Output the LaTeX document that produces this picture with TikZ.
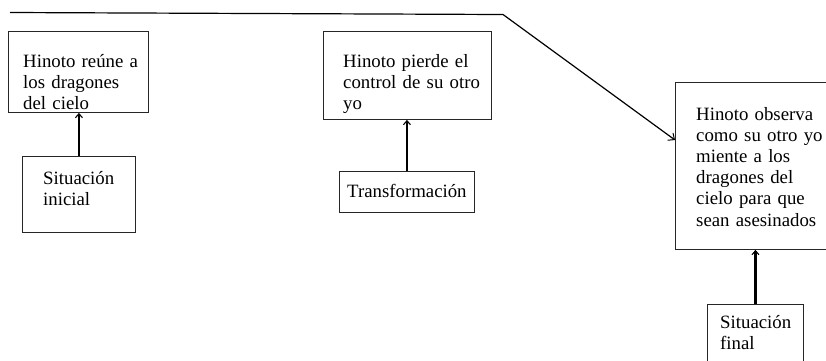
\documentclass[tikz,border=0pt]{standalone}
\usepackage{fontspec}
\setmainfont{Liberation Serif}
\usetikzlibrary{arrows.meta}
\begin{document}
\begin{tikzpicture}[x=1pt,y=-1pt,
  box/.style={draw=black!85,line width=0.9pt,inner sep=0pt,anchor=north west},
  txt/.style={inner sep=0pt,anchor=base west,align=left,text width=200pt,
    font=\fontsize{18.8}{21.2}\selectfont},
  arr/.style={line width=2.2pt,-{Straight Barb[length=4pt,width=7pt,line width=1.1pt]}},
  flow/.style={line width=1.2pt,-{Straight Barb[length=5pt,width=9pt,line width=1pt]}}]
\useasboundingbox (0,0) rectangle (826,360);
\clip (0,0) rectangle (826,360);
% boxes
\node[box,minimum width=140pt,minimum height=81pt] (b1) at (8,31) {};
\node[box,minimum width=168pt,minimum height=88pt] (b2) at (323,31) {};
\node[box,minimum width=150.5pt,minimum height=167pt] (b3) at (675,82) {};
\node[box,minimum width=113pt,minimum height=76pt] (s1) at (22,156) {};
\node[box,minimum width=135pt,minimum height=41pt] (s2) at (339,171) {};
\node[box,minimum width=96pt,minimum height=70pt] (s3) at (707,304) {};
% texts
\node[txt] (t1) at (23,67) {Hinoto reúne a\\los dragones\\del cielo};
\node[txt] (t2) at (343,67) {Hinoto pierde el\\control de su otro\\yo};
\node[txt] (t3) at (696,120) {Hinoto observa\\como su otro yo\\miente a los\\dragones del\\cielo para que\\sean asesinados};
\node[txt] (u1) at (43,184) {Situación\\inicial};
\node[txt] (u2) at (347,197) {Transformación};
\node[txt] (u3) at (720,328) {Situación\\final};
% arrows
\draw[arr] (s1.north) -- (s1.north |- b1.south);
\draw[arr] (s2.north) -- (s2.north |- b2.south);
\draw[arr] (s3.north) -- (s3.north |- b3.south);
% top flow line
\coordinate (start) at (10,12.5);
\coordinate (bend) at (503,14.5);
\coordinate (entry) at (675,140);
\draw[flow] (start) -- (bend) -- (entry);
\end{tikzpicture}
\end{document}
